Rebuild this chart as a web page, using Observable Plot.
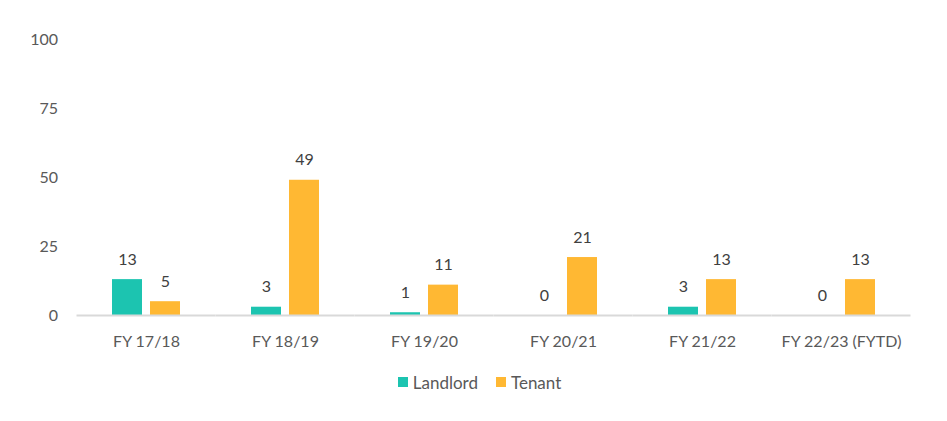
<!DOCTYPE html>
<html>
<head>
<meta charset="utf-8">
<script src="https://cdn.jsdelivr.net/npm/d3@7"></script>
<script src="https://cdn.jsdelivr.net/npm/@observablehq/plot@0.6"></script>
<style>
  body { margin: 0; background: #fff; font-family: Lato, "Open Sans", sans-serif; }
  #chart { width: 947px; }
  .legend { display: flex; justify-content: center; align-items: center; gap: 18px; height: 44px; margin-left: 12px; color: #595959; font-size: 17px; }
  .legend span.sw { display: inline-block; width: 10px; height: 10px; margin-right: 5px; }
  .legend .item { display: flex; align-items: center; }
</style>
</head>
<body>
<div id="chart"></div>
<script>
const categories = ["FY 17/18", "FY 18/19", "FY 19/20", "FY 20/21", "FY 21/22", "FY 22/23 (FYTD)"];
const series = ["Landlord", "Tenant"];
const landlord = [13, 3, 1, 0, 3, 0];
const tenant = [5, 49, 11, 21, 13, 13];
const colors = ["#1cc4b0", "#ffb833"];
const yTicks = [0, 25, 50, 75, 100];

const data = [];
categories.forEach((c, i) => {
  data.push({category: c, series: "Landlord", value: landlord[i]});
  data.push({category: c, series: "Tenant", value: tenant[i]});
});

const plot = Plot.plot({
  width: 947,
  height: 360,
  marginLeft: 77,
  marginRight: 36,
  marginTop: 39,
  marginBottom: 45,
  style: {fontFamily: "Lato, 'Open Sans', sans-serif", fontSize: "16px", color: "#595959", background: "#fff"},
  fx: {domain: categories, paddingInner: 0.496, paddingOuter: 0.248, label: null},
  x: {domain: series, paddingInner: 0.205, paddingOuter: 0, axis: null},
  y: {domain: [0, 100], label: null},
  color: {domain: series, range: colors},
  marks: [
    Plot.axisY(yTicks, {tickSize: 0, tickPadding: 53.5, fontSize: 16, fill: "#595959", label: null}),
    Plot.axisFx({anchor: "bottom", tickSize: 0, tickPadding: 20, fontSize: 16, fill: "#595959", label: null}),
    Plot.barY(data, {fx: "category", x: "series", y: "value", fill: "series"}),
    Plot.ruleY([0], {stroke: "#d9d9d9", strokeWidth: 2, insetLeft: -34.5, insetRight: -34.5}),
    Plot.text(data, {fx: "category", x: "series", y: "value", text: d => String(d.value), dy: -20, fill: "#404040", fontSize: 16})
  ]
});
document.getElementById("chart").appendChild(plot);

const legend = document.createElement("div");
legend.className = "legend";
series.forEach((s, i) => {
  const item = document.createElement("div");
  item.className = "item";
  const sw = document.createElement("span");
  sw.className = "sw";
  sw.style.background = colors[i];
  item.appendChild(sw);
  item.appendChild(document.createTextNode(s));
  legend.appendChild(item);
});
document.getElementById("chart").appendChild(legend);
</script>
</body>
</html>
